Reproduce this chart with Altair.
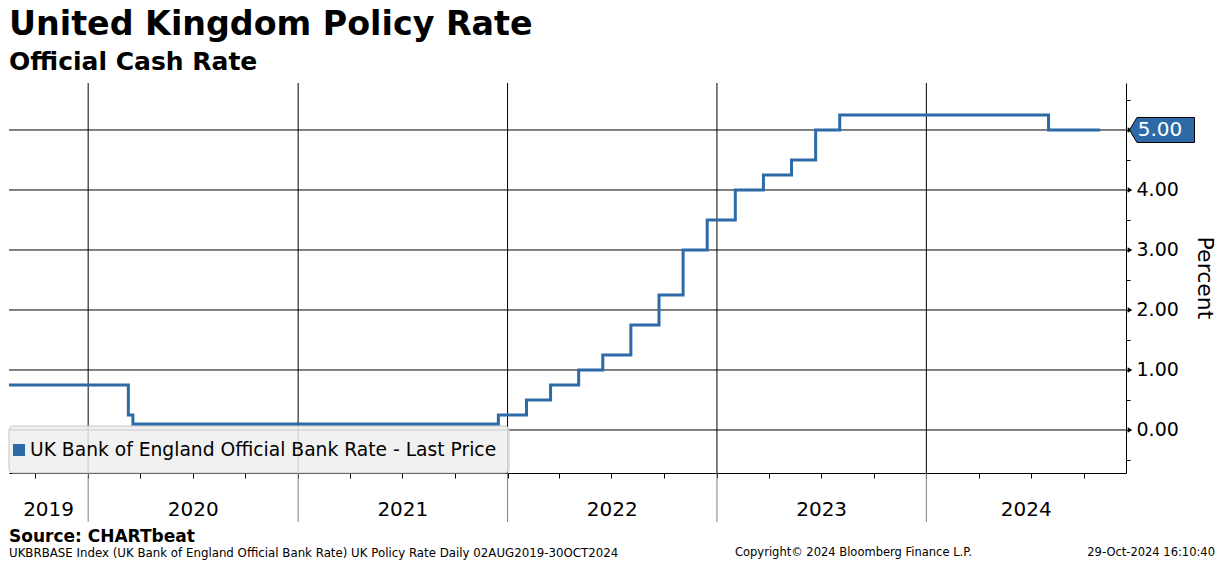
import altair as alt
import pandas as pd

# ---------------- data ----------------
change_dates = ["2019-08-02", "2020-03-11", "2020-03-19", "2021-12-16", "2022-02-03",
                "2022-03-17", "2022-05-05", "2022-06-16", "2022-08-04", "2022-09-22",
                "2022-11-03", "2022-12-15", "2023-02-02", "2023-03-23", "2023-05-11",
                "2023-06-22", "2023-08-03", "2024-08-01", "2024-10-30"]
rates = [0.75, 0.25, 0.10, 0.25, 0.50, 0.75, 1.00, 1.25, 1.75, 2.25,
         3.00, 3.50, 4.00, 4.25, 4.50, 5.00, 5.25, 5.00, 5.00]
series_name = ["UK Bank of England Official Bank Rate - Last Price"]
year_starts = ["2020-01-01", "2021-01-01", "2022-01-01", "2023-01-01", "2024-01-01"]
year_labels = ["2019", "2020", "2021", "2022", "2023", "2024"]
y_grid = [0, 1, 2, 3, 4, 5]
y_ticks = [-0.5, 0, 0.5, 1, 1.5, 2, 2.5, 3, 3.5, 4, 4.5, 5, 5.5]
y_domain = [-0.717, 5.783]
x_domain = ["2019-08-16", "2024-12-14"]
title_text = ["United Kingdom Policy Rate"]
subtitle_text = ["Official Cash Rate"]
axis_title = ["Percent"]
source_text = ["Source:  CHARTbeat"]
footer_left = ["UKBRBASE Index (UK Bank of England Official Bank Rate) UK Policy Rate  Daily 02AUG2019-30OCT2024"]
footer_mid = ["Copyright\u00a9 2024 Bloomberg Finance L.P."]
footer_right = ["29-Oct-2024 16:10:40"]

# ---------------- style ----------------
W, H = 1117, 390
FONT = "DejaVu Sans"
BLUE = "#2d6aa7"


def to_ms(s):
    return int(pd.Timestamp(s, tz="UTC").value // 10**6)


dom = [to_ms(d) for d in x_domain]
quarters = [to_ms(d) for d in pd.date_range("2019-10-01", "2024-10-01", freq="QS")]

# year label positions: centre of the visible part of each year
mids = []
for lab in year_labels:
    lo = max(to_ms(f"{lab}-01-01"), dom[0])
    hi = min(to_ms(f"{int(lab) + 1}-01-01"), dom[1])
    mids.append((lo + hi) // 2)

df_rate = pd.DataFrame({"date": change_dates, "rate": rates})
df_last = df_rate.tail(1)
df_years = pd.DataFrame({"d": [to_ms(d) for d in year_starts]})
df_ylab = pd.DataFrame({"mid": mids, "label": year_labels})
df_grid = pd.DataFrame({"v": y_grid})

xscale = alt.Scale(type="utc", domain=dom)
xaxis = alt.Axis(values=quarters, labels=False, tickSize=5, tickColor="black",
                 domainColor="black", grid=False, title=None)
yscale = alt.Scale(domain=y_domain, nice=False, zero=False)
yaxis = alt.Axis(orient="right", values=y_ticks,
                 labelExpr="datum.value % 1 == 0 ? format(datum.value, '.2f') : ''",
                 tickSize=4, labelPadding=6, labelFontSize=19, labelFont=FONT,
                 labelColor="black", tickColor="black", domainColor="black",
                 grid=False, title=None, labelOverlap=False, labelFlush=False)


def X(field):
    return alt.X(field, type="temporal", scale=xscale, axis=xaxis)


def Y(field):
    return alt.Y(field, type="quantitative", scale=yscale, axis=yaxis)


def txt(values, x, y, size, weight="normal", align="left", baseline="middle",
        color="black", angle=0):
    return alt.Chart(pd.DataFrame({"t": values})).mark_text(
        font=FONT, fontSize=size, fontWeight=weight, align=align,
        baseline=baseline, color=color, angle=angle
    ).encode(x=alt.value(x), y=alt.value(y), text="t:N")


hgrid = alt.Chart(df_grid).mark_rule(color="black", strokeWidth=1).encode(y=Y("v"))
vgrid = alt.Chart(df_years).mark_rule(color="black", strokeWidth=1).encode(x=X("d"))
band = alt.Chart(df_years).mark_rule(color="#808080", strokeWidth=1).encode(
    x=X("d"), y=alt.value(H), y2=alt.value(H + 49))

legend_box = alt.Chart(pd.DataFrame({"t": series_name})).mark_rect(
    fill="#eeeeee", fillOpacity=0.85, stroke="#c8c8c8", strokeWidth=1, cornerRadius=4
).encode(x=alt.value(0), x2=alt.value(500), y=alt.value(343), y2=alt.value(390))
legend_sym = alt.Chart(pd.DataFrame({"t": series_name})).mark_square(
    color=BLUE, size=144, opacity=1).encode(x=alt.value(10), y=alt.value(367))
legend_txt = txt(series_name, 21, 367, 18.7)

line = alt.Chart(df_rate).mark_line(
    color=BLUE, strokeWidth=3, interpolate="step-after", clip=True
).encode(x=X("date"), y=Y("rate"))

arrows = alt.Chart(df_grid).mark_point(
    shape="triangle-right", filled=True, color="black", opacity=1, size=28
).encode(x=alt.value(W + 4), y=Y("v"))

tag_path = "M -1 0 L -0.77 -0.385 L 1 -0.385 L 1 0.385 L -0.77 0.385 Z"
tag = alt.Chart(df_last).mark_point(
    shape=tag_path, filled=True, fill=BLUE, stroke="black", strokeWidth=1,
    opacity=1, size=4225
).encode(x=alt.value(W + 36), y=Y("rate"))
tag_txt = alt.Chart(df_last).mark_text(
    font=FONT, fontSize=20, color="white", align="center", baseline="middle"
).encode(x=alt.value(W + 34), y=Y("rate"), text=alt.Text("rate:Q", format=".2f"))

ylabels = alt.Chart(df_ylab).mark_text(
    font=FONT, fontSize=20, color="black", align="center", baseline="middle"
).encode(x=X("mid"), y=alt.value(H + 37), text="label:N")

title = txt(title_text, 0, -74, 33.3, weight="bold", baseline="top")
subtitle = txt(subtitle_text, 0, -13, 25, weight="bold", baseline="alphabetic")
ptitle = txt(axis_title, W + 79, 195, 22, align="center", angle=90)
source = txt(source_text, 0, H + 64, 17, weight="bold")
f1 = txt(footer_left, 0, H + 80, 11.8)
f2 = txt(footer_mid, 726, H + 80, 11.5)
f3 = txt(footer_right, 1206, H + 80, 11.5, align="right")

chart = alt.layer(
    hgrid, vgrid, band, legend_box, line, legend_sym, legend_txt, arrows, tag, tag_txt,
    ylabels, title, subtitle, ptitle, source, f1, f2, f3
).properties(
    width=W, height=H, padding=0, background="white"
).configure_view(stroke=None)

chart.save("out.html", embed_options={"renderer": "svg", "actions": False})
